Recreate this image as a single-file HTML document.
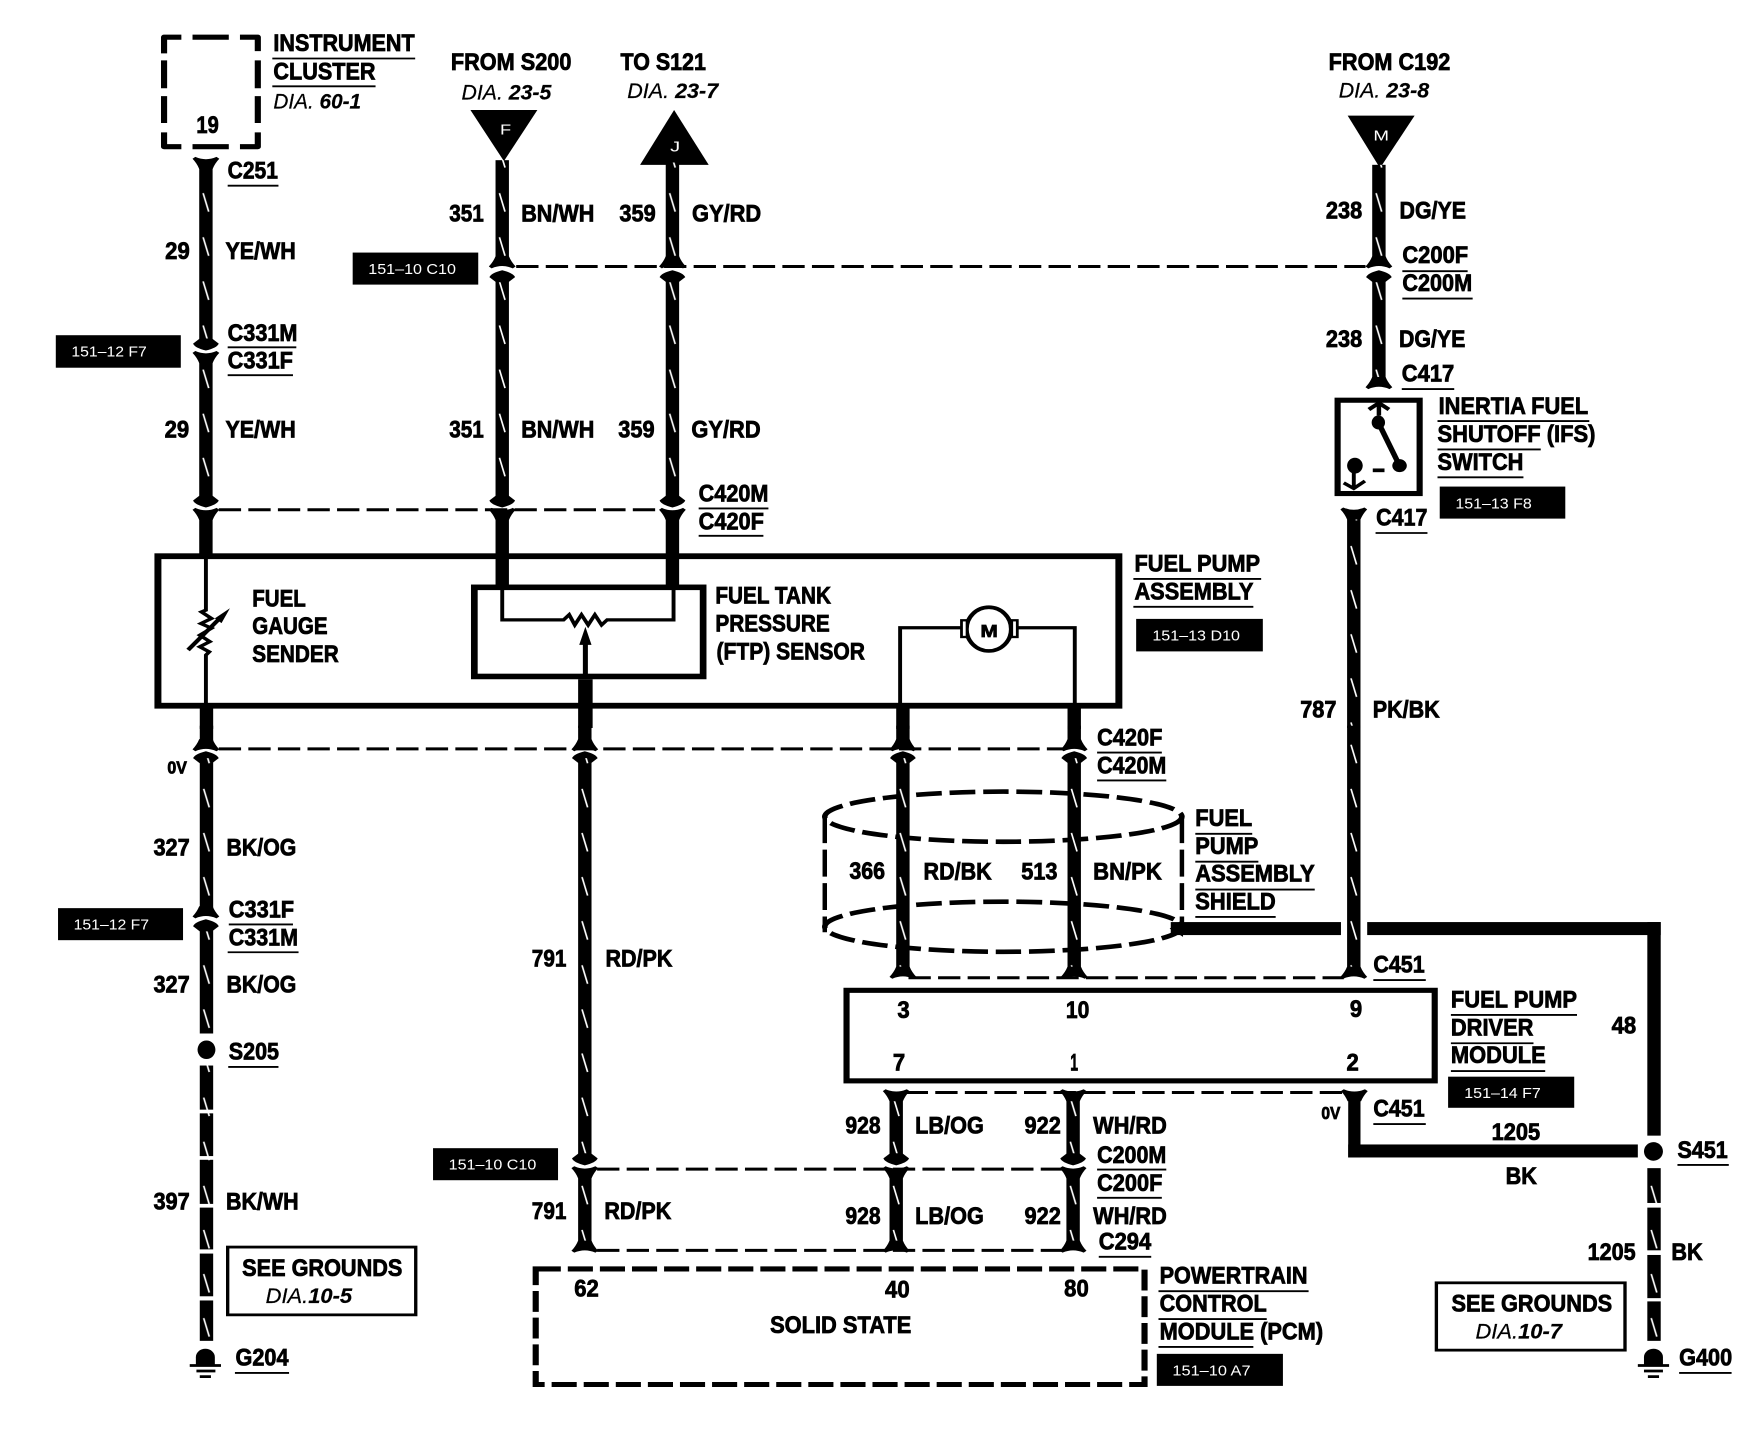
<!DOCTYPE html>
<html><head><meta charset="utf-8"><style>
html,body{margin:0;padding:0;background:#fff}
svg{display:block}
text{font-family:"Liberation Sans",sans-serif;font-weight:bold;font-size:52px;fill:#000;stroke:#000;stroke-width:1.7px}
text.s{font-size:38px}
text.i{font-style:italic;font-weight:normal;stroke-width:.5px;font-size:46px}
text.i tspan{font-weight:bold}
text.w{font-weight:normal;font-size:32px;fill:#fff;stroke:none}
.u{fill:none;stroke:#000;stroke-width:4}
.d{fill:none;stroke:#000;stroke-width:6.5;stroke-dasharray:40 13}
.t2{fill:none;stroke:#000;stroke-width:7}
</style></head><body>
<svg xmlns="http://www.w3.org/2000/svg" width="1750" height="1456" viewBox="0 0 3136 3136" preserveAspectRatio="none">
<defs>
<pattern id="w" patternUnits="userSpaceOnUse" x="0" y="0" width="24" height="95"><rect width="24" height="95" fill="#000"/><line x1="7" y1="36" x2="17" y2="76" stroke="#fff" stroke-width="3"/></pattern>
<path id="fu" d="M-24,-8 L-19,-12 Q0,-2 19,-12 L24,-8 Q16,2 12,14 L-12,14 Q-16,2 -24,-8Z"/>
<path id="ad" d="M-11,-26 L-23,-15 Q-20,-6 0,0 Q20,-6 23,-15 L11,-26Z"/>
</defs>
<rect width="3136" height="3136" fill="#fff"/>

<!-- dashed connector lines -->
<path class="d" d="M925 574H2447"/>
<path class="d" d="M392 1098H1185"/>
<path class="d" d="M392 1613H1908"/>
<path class="d" d="M1070 2518H1908"/>
<path class="d" d="M1070 2693H1908"/>
<path class="d" d="M1628 2106H2408"/>
<path class="d" d="M1623 2353H2408"/>

<!-- QUADRANT 1 -->
<g>
<!-- instrument cluster -->
<path d="M325 80H294V115M294 130V190M294 207V265M294 285V316H325M345 316H410M430 316H462V285M462 265V207M462 190V130M462 110V80H430M410 80H345" stroke="#000" stroke-width="11" fill="none" stroke-linejoin="round"/>
<polygon points="843,237 963,237 903,347"/>
<polygon points="1208,237 1270,355 1147,355"/>
<text class="w" x="896" y="290" textLength="20" lengthAdjust="spacingAndGlyphs">F</text>
<text class="w" x="1201" y="326" textLength="18" lengthAdjust="spacingAndGlyphs">J</text>

<g fill="url(#w)" transform="translate(357,0)">
<rect width="24" y="350" height="395"/><rect width="24" y="768" height="315"/>
</g>
<rect x="357" y="1106" width="24" height="92"/>
<use href="#fu" transform="translate(369,350)"/><use href="#ad" transform="translate(369,755)"/><use href="#fu" transform="translate(369,768)"/><use href="#ad" transform="translate(369,1093)"/><use href="#fu" transform="translate(369,1106)"/>

<g fill="url(#w)" transform="translate(888,0)">
<rect width="24" y="345" height="215"/><rect width="24" y="595" height="490"/>
</g>
<rect x="888" y="1106" width="24" height="160"/>
<use href="#fu" transform="translate(900,566) scale(1,-1)"/><use href="#ad" transform="translate(900,582) scale(1,-1)"/><use href="#ad" transform="translate(900,1093)"/><use href="#fu" transform="translate(900,1106)"/>

<g fill="url(#w)" transform="translate(1193,0)">
<rect width="24" y="350" height="210"/><rect width="24" y="595" height="490"/>
</g>
<rect x="1193" y="1106" width="24" height="160"/>
<use href="#fu" transform="translate(1205,566) scale(1,-1)"/><use href="#ad" transform="translate(1205,582) scale(1,-1)"/><use href="#ad" transform="translate(1205,1093)"/><use href="#fu" transform="translate(1205,1106)"/>

<!-- pump box -->
<rect x="283" y="1198" width="1722" height="322" fill="none" stroke="#000" stroke-width="12.5"/>
<rect x="850" y="1265" width="410" height="192" fill="none" stroke="#000" stroke-width="12"/>
<path class="t2" d="M900 1265V1335H1010L1020 1324L1030 1346L1042 1324L1054 1346L1066 1324L1078 1346L1088 1335H1207V1265"/>
<path d="M1049 1460V1380" stroke="#000" stroke-width="9"/>
<polygon points="1049,1350 1038,1389 1060,1389"/>
<rect x="1036" y="1463" width="26" height="105"/>
<path class="t2" d="M369 1198V1314L361 1318L379 1332L360 1343L379 1353L358 1368L376 1382L358 1393L375 1404L369 1411V1520"/>
<path d="M337 1400L392 1334" stroke="#000" stroke-width="8"/>
<polygon points="412,1310 385,1332 397,1342"/>
<rect x="358" y="1520" width="24" height="50"/>

<text x="490" y="110" textLength="253" lengthAdjust="spacingAndGlyphs">INSTRUMENT</text>
<text x="490" y="171" textLength="183" lengthAdjust="spacingAndGlyphs">CLUSTER</text>
<text class="i" x="490" y="234" textLength="157" lengthAdjust="spacingAndGlyphs">DIA. <tspan>60-1</tspan></text>
<text x="808" y="151" textLength="216" lengthAdjust="spacingAndGlyphs">FROM S200</text>
<text class="i" x="827" y="214" textLength="161" lengthAdjust="spacingAndGlyphs">DIA. <tspan>23-5</tspan></text>
<text x="1112" y="151" textLength="153" lengthAdjust="spacingAndGlyphs">TO S121</text>
<text class="i" x="1124" y="211" textLength="163" lengthAdjust="spacingAndGlyphs">DIA. <tspan>23-7</tspan></text>
<text x="352" y="287" textLength="40" lengthAdjust="spacingAndGlyphs">19</text>
<text x="408" y="385" textLength="90" lengthAdjust="spacingAndGlyphs">C251</text>
<text x="805" y="477" textLength="62" lengthAdjust="spacingAndGlyphs">351</text>
<text x="934" y="477" textLength="131" lengthAdjust="spacingAndGlyphs">BN/WH</text>
<text x="1110" y="477" textLength="65" lengthAdjust="spacingAndGlyphs">359</text>
<text x="1240" y="477" textLength="124" lengthAdjust="spacingAndGlyphs">GY/RD</text>
<text x="296" y="558" textLength="44" lengthAdjust="spacingAndGlyphs">29</text>
<text x="404" y="558" textLength="126" lengthAdjust="spacingAndGlyphs">YE/WH</text>
<text x="408" y="734" textLength="125" lengthAdjust="spacingAndGlyphs">C331M</text>
<text x="408" y="794" textLength="117" lengthAdjust="spacingAndGlyphs">C331F</text>
<text x="295" y="942" textLength="44" lengthAdjust="spacingAndGlyphs">29</text>
<text x="404" y="942" textLength="126" lengthAdjust="spacingAndGlyphs">YE/WH</text>
<text x="805" y="942" textLength="62" lengthAdjust="spacingAndGlyphs">351</text>
<text x="934" y="942" textLength="131" lengthAdjust="spacingAndGlyphs">BN/WH</text>
<text x="1108" y="942" textLength="65" lengthAdjust="spacingAndGlyphs">359</text>
<text x="1239" y="942" textLength="124" lengthAdjust="spacingAndGlyphs">GY/RD</text>
<text x="1252" y="1080" textLength="125" lengthAdjust="spacingAndGlyphs">C420M</text>
<text x="1252" y="1140" textLength="117" lengthAdjust="spacingAndGlyphs">C420F</text>
<text x="452" y="1306" textLength="96" lengthAdjust="spacingAndGlyphs">FUEL</text>
<text x="452" y="1366" textLength="135" lengthAdjust="spacingAndGlyphs">GAUGE</text>
<text x="452" y="1426" textLength="155" lengthAdjust="spacingAndGlyphs">SENDER</text>
<text x="1282" y="1300" textLength="207" lengthAdjust="spacingAndGlyphs">FUEL TANK</text>
<text x="1282" y="1360" textLength="205" lengthAdjust="spacingAndGlyphs">PRESSURE</text>
<text x="1284" y="1420" textLength="266" lengthAdjust="spacingAndGlyphs">(FTP) SENSOR</text>
<path class="u" d="M488 126H744M488 186H673M408 400H499M408 748H531M408 808H525M1252 1095H1377M1252 1154H1368"/>
<rect x="100" y="722" width="224" height="70"/>
<text class="w" x="128" y="768" textLength="135" lengthAdjust="spacingAndGlyphs">151–12 F7</text>
<rect x="632" y="544" width="225" height="69"/>
<text class="w" x="660" y="590" textLength="157" lengthAdjust="spacingAndGlyphs">151–10 C10</text>
</g>

<!-- QUADRANT 2 -->
<g transform="translate(1568,0)">
<polygon points="847,249 967,249 905,362"/>
<text class="w" x="893" y="303" textLength="28" lengthAdjust="spacingAndGlyphs">M</text>
<g fill="url(#w)" transform="translate(891,0)">
<rect width="24" y="355" height="205"/><rect width="24" y="595" height="230"/>
</g>
<use href="#fu" transform="translate(903,566) scale(1,-1)"/><use href="#ad" transform="translate(903,582) scale(1,-1)"/><use href="#fu" transform="translate(903,826) scale(1,-1)"/>
<rect x="829" y="862" width="147" height="201" fill="none" stroke="#000" stroke-width="11"/>
<path d="M903 868V895M885 882L903 868L921 882" stroke="#000" stroke-width="8" fill="none"/>
<ellipse cx="902" cy="910" rx="12" ry="15"/><path d="M902 910L940 1003" stroke="#000" stroke-width="10"/><ellipse cx="940" cy="1003" rx="13" ry="14"/>
<path d="M892 1013H913" stroke="#000" stroke-width="8"/>
<ellipse cx="860" cy="1003" rx="14" ry="17"/><path d="M858 1003V1050M840 1040L858 1052L878 1036" stroke="#000" stroke-width="7" fill="none"/>
<g fill="url(#w)" transform="translate(846,0)">
<rect width="24" y="1105" height="463"/>
</g>
<use href="#fu" transform="translate(858,1105)"/>
<path class="t2" d="M45 1520V1352H155M255 1352H358V1520"/>
<ellipse cx="204" cy="1355" rx="40" ry="47" fill="#fff" stroke="#000" stroke-width="8"/>
<rect x="155" y="1336" width="10" height="36" fill="#fff" stroke="#000" stroke-width="5"/>
<rect x="245" y="1336" width="10" height="36" fill="#fff" stroke="#000" stroke-width="5"/>
<text class="s" x="189" y="1372" textLength="31" lengthAdjust="spacingAndGlyphs">M</text>
<rect x="38" y="1520" width="24" height="50"/><rect x="345" y="1520" width="24" height="50"/>

<text x="813" y="151" textLength="218" lengthAdjust="spacingAndGlyphs">FROM C192</text>
<text class="i" x="831" y="210" textLength="162" lengthAdjust="spacingAndGlyphs">DIA. <tspan>23-8</tspan></text>
<text x="808" y="471" textLength="65" lengthAdjust="spacingAndGlyphs">238</text>
<text x="940" y="471" textLength="119" lengthAdjust="spacingAndGlyphs">DG/YE</text>
<text x="945" y="567" textLength="118" lengthAdjust="spacingAndGlyphs">C200F</text>
<text x="945" y="627" textLength="125" lengthAdjust="spacingAndGlyphs">C200M</text>
<text x="808" y="747" textLength="65" lengthAdjust="spacingAndGlyphs">238</text>
<text x="939" y="747" textLength="119" lengthAdjust="spacingAndGlyphs">DG/YE</text>
<text x="944" y="822" textLength="94" lengthAdjust="spacingAndGlyphs">C417</text>
<text x="1010" y="892" textLength="268" lengthAdjust="spacingAndGlyphs">INERTIA FUEL</text>
<text x="1008" y="952" textLength="283" lengthAdjust="spacingAndGlyphs">SHUTOFF (IFS)</text>
<text x="1008" y="1012" textLength="154" lengthAdjust="spacingAndGlyphs">SWITCH</text>
<text x="898" y="1132" textLength="92" lengthAdjust="spacingAndGlyphs">C417</text>
<text x="465" y="1231" textLength="225" lengthAdjust="spacingAndGlyphs">FUEL PUMP</text>
<text x="465" y="1291" textLength="213" lengthAdjust="spacingAndGlyphs">ASSEMBLY</text>
<text x="762" y="1545" textLength="65" lengthAdjust="spacingAndGlyphs">787</text>
<text x="892" y="1545" textLength="120" lengthAdjust="spacingAndGlyphs">PK/BK</text>
<path class="u" d="M945 584H1062M945 643H1071M944 838H1038M1008 907H1280M1008 968H1193M1008 1028H1162M897 1148H990M463 1247H692M463 1307H678"/>
<rect x="1012" y="1048" width="225" height="69"/>
<text class="w" x="1040" y="1095" textLength="137" lengthAdjust="spacingAndGlyphs">151–13 F8</text>
<rect x="468" y="1333" width="227" height="70"/>
<text class="w" x="497" y="1380" textLength="157" lengthAdjust="spacingAndGlyphs">151–13 D10</text>
</g>

<!-- QUADRANT 3 -->
<g transform="translate(0,1568)">
<rect x="358" y="-5" width="24" height="40"/>
<use href="#fu" transform="translate(369,38) scale(1,-1)"/><use href="#ad" transform="translate(369,50) scale(1,-1)"/>
<g fill="url(#w)" transform="translate(358,0)">
<rect width="24" y="65" height="330"/><rect width="24" y="430" height="228"/>
<rect width="24" y="727" height="95"/><rect width="24" y="830" height="92"/><rect width="24" y="930" height="95"/><rect width="24" y="1033" height="90"/><rect width="24" y="1132" height="92"/><rect width="24" y="1233" height="87"/>
</g>
<use href="#fu" transform="translate(369,398) scale(1,-1)"/><use href="#ad" transform="translate(369,412) scale(1,-1)"/>
<ellipse cx="370" cy="693" rx="16" ry="20"/>
<path d="M351 1372V1355A17 18 0 0 1 385 1355V1372Z"/>
<path d="M340 1373H396M352 1385H386M358 1397H378" stroke="#000" stroke-width="6"/>

<rect x="1036" y="-5" width="24" height="40"/>
<use href="#fu" transform="translate(1048,38) scale(1,-1)"/><use href="#ad" transform="translate(1048,50) scale(1,-1)"/>
<g fill="url(#w)" transform="translate(1036,0)">
<rect width="24" y="65" height="865"/><rect width="24" y="956" height="160"/>
</g>
<use href="#ad" transform="translate(1048,942)"/><use href="#fu" transform="translate(1048,956)"/><use href="#fu" transform="translate(1048,1118) scale(1,-1)"/>

<text class="s" x="300" y="98" textLength="35" lengthAdjust="spacingAndGlyphs">0V</text>
<text x="275" y="275" textLength="65" lengthAdjust="spacingAndGlyphs">327</text>
<text x="406" y="275" textLength="125" lengthAdjust="spacingAndGlyphs">BK/OG</text>
<text x="410" y="408" textLength="117" lengthAdjust="spacingAndGlyphs">C331F</text>
<text x="410" y="468" textLength="124" lengthAdjust="spacingAndGlyphs">C331M</text>
<text x="275" y="570" textLength="65" lengthAdjust="spacingAndGlyphs">327</text>
<text x="406" y="570" textLength="125" lengthAdjust="spacingAndGlyphs">BK/OG</text>
<text x="410" y="714" textLength="90" lengthAdjust="spacingAndGlyphs">S205</text>
<text x="275" y="1037" textLength="65" lengthAdjust="spacingAndGlyphs">397</text>
<text x="405" y="1037" textLength="130" lengthAdjust="spacingAndGlyphs">BK/WH</text>
<rect x="408" y="1118" width="337" height="146" fill="none" stroke="#000" stroke-width="6"/>
<text x="434" y="1180" textLength="287" lengthAdjust="spacingAndGlyphs">SEE GROUNDS</text>
<text class="i" x="476" y="1238" textLength="155" lengthAdjust="spacingAndGlyphs">DIA.<tspan>10-5</tspan></text>
<text x="422" y="1373" textLength="95" lengthAdjust="spacingAndGlyphs">G204</text>
<text x="953" y="514" textLength="62" lengthAdjust="spacingAndGlyphs">791</text>
<text x="1085" y="514" textLength="120" lengthAdjust="spacingAndGlyphs">RD/PK</text>
<text x="953" y="1058" textLength="62" lengthAdjust="spacingAndGlyphs">791</text>
<text x="1083" y="1058" textLength="120" lengthAdjust="spacingAndGlyphs">RD/PK</text>
<text x="1029" y="1225" textLength="44" lengthAdjust="spacingAndGlyphs">62</text>
<text x="1380" y="1303" textLength="253" lengthAdjust="spacingAndGlyphs">SOLID STATE</text>
<text x="1515" y="873" textLength="63" lengthAdjust="spacingAndGlyphs">928</text>
<text x="1515" y="1068" textLength="63" lengthAdjust="spacingAndGlyphs">928</text>
<text x="1522" y="325" textLength="64" lengthAdjust="spacingAndGlyphs">366</text>
<path class="u" d="M410 423H525M408 483H535M409 730H499M421 1389H518"/>
<rect x="104" y="388" width="224" height="69"/>
<text class="w" x="132" y="434" textLength="135" lengthAdjust="spacingAndGlyphs">151–12 F7</text>
<rect x="776" y="905" width="224" height="69"/>
<text class="w" x="804" y="951" textLength="157" lengthAdjust="spacingAndGlyphs">151–10 C10</text>
<!-- PCM dashed box -->
<rect x="960" y="1165" width="1091" height="249" fill="none" stroke="#000" stroke-width="11" stroke-dasharray="45 12.5"/>
<!-- shield -->
<ellipse cx="1798" cy="191" rx="320" ry="54" fill="none" stroke="#000" stroke-width="10" stroke-dasharray="46 14"/>
<ellipse cx="1798" cy="428" rx="320" ry="54" fill="none" stroke="#000" stroke-width="10" stroke-dasharray="46 14"/>
<path d="M1478 190V440" fill="none" stroke="#000" stroke-width="8" stroke-dasharray="58 14"/>
<path d="M2118 190V420" fill="none" stroke="#000" stroke-width="8" stroke-dasharray="58 14"/>
<!-- module box -->
<rect x="1517" y="565" width="1054" height="195" fill="none" stroke="#000" stroke-width="11"/>
</g>

<!-- QUADRANT 4 -->
<g transform="translate(1568,1568)">
<rect x="38" y="-5" width="24" height="40"/><rect x="345" y="-5" width="24" height="40"/>
<use href="#fu" transform="translate(50,38) scale(1,-1)"/><use href="#ad" transform="translate(50,50) scale(1,-1)"/>
<use href="#fu" transform="translate(357,38) scale(1,-1)"/><use href="#ad" transform="translate(357,50) scale(1,-1)"/>
<g fill="url(#w)" transform="translate(38,0)"><rect width="24" y="65" height="460"/></g>
<g fill="url(#w)" transform="translate(345,0)"><rect width="24" y="65" height="460"/></g>
<use href="#fu" transform="translate(50,528) scale(1,-1)"/><use href="#fu" transform="translate(357,528) scale(1,-1)"/>
<g fill="url(#w)" transform="translate(846,0)"><rect width="24" y="-5" height="530"/></g>
<use href="#fu" transform="translate(858,528) scale(1,-1)"/>
<!-- shield ground -->
<rect x="530" y="418" width="305" height="28"/>
<path d="M528 432L552 412V450Z"/>
<rect x="882" y="418" width="526" height="28"/>
<rect x="1384" y="418" width="24" height="460"/>
<ellipse cx="1395" cy="912" rx="17" ry="20"/>
<g fill="url(#w)" transform="translate(1384,0)">
<rect width="24" y="948" height="75"/><rect width="24" y="1033" height="92"/><rect width="24" y="1135" height="93"/><rect width="24" y="1235" height="85"/>
</g>
<path d="M1378 1372V1355A17 18 0 0 1 1412 1355V1372Z"/>
<path d="M1367 1373H1423M1378 1385H1412M1385 1397H1405" stroke="#000" stroke-width="6"/>
<!-- lower wires -->
<rect x="848" y="790" width="22" height="135"/><rect x="848" y="897" width="519" height="28"/>
<use href="#fu" transform="translate(859,790)"/>
<g fill="url(#w)" transform="translate(26,0)"><rect width="24" y="790" height="130"/><rect width="24" y="956" height="160"/></g>
<g fill="url(#w)" transform="translate(343,0)"><rect width="24" y="790" height="130"/><rect width="24" y="956" height="160"/></g>
<use href="#fu" transform="translate(38,790)"/><use href="#ad" transform="translate(38,942)"/><use href="#fu" transform="translate(38,956)"/><use href="#fu" transform="translate(38,1118) scale(1,-1)"/>
<use href="#fu" transform="translate(355,790)"/><use href="#ad" transform="translate(355,942)"/><use href="#fu" transform="translate(355,956)"/><use href="#fu" transform="translate(355,1118) scale(1,-1)"/>

<text x="398" y="38" textLength="117" lengthAdjust="spacingAndGlyphs">C420F</text>
<text x="398" y="98" textLength="124" lengthAdjust="spacingAndGlyphs">C420M</text>
<text x="574" y="211" textLength="102" lengthAdjust="spacingAndGlyphs">FUEL</text>
<text x="574" y="271" textLength="113" lengthAdjust="spacingAndGlyphs">PUMP</text>
<text x="574" y="331" textLength="214" lengthAdjust="spacingAndGlyphs">ASSEMBLY</text>
<text x="574" y="391" textLength="144" lengthAdjust="spacingAndGlyphs">SHIELD</text>
<text x="87" y="326" textLength="122" lengthAdjust="spacingAndGlyphs">RD/BK</text>
<text x="262" y="326" textLength="65" lengthAdjust="spacingAndGlyphs">513</text>
<text x="391" y="326" textLength="123" lengthAdjust="spacingAndGlyphs">BN/PK</text>
<text x="893" y="527" textLength="92" lengthAdjust="spacingAndGlyphs">C451</text>
<text x="40" y="625" textLength="22" lengthAdjust="spacingAndGlyphs">3</text>
<text x="342" y="625" textLength="42" lengthAdjust="spacingAndGlyphs">10</text>
<text x="851" y="623" textLength="22" lengthAdjust="spacingAndGlyphs">9</text>
<text x="32" y="738" textLength="22" lengthAdjust="spacingAndGlyphs">7</text>
<text x="350" y="738" textLength="14" lengthAdjust="spacingAndGlyphs">1</text>
<text x="845" y="738" textLength="22" lengthAdjust="spacingAndGlyphs">2</text>
<text x="1032" y="602" textLength="226" lengthAdjust="spacingAndGlyphs">FUEL PUMP</text>
<text x="1032" y="662" textLength="148" lengthAdjust="spacingAndGlyphs">DRIVER</text>
<text x="1032" y="722" textLength="170" lengthAdjust="spacingAndGlyphs">MODULE</text>
<text x="1320" y="658" textLength="44" lengthAdjust="spacingAndGlyphs">48</text>
<text x="72" y="873" textLength="123" lengthAdjust="spacingAndGlyphs">LB/OG</text>
<text x="268" y="873" textLength="65" lengthAdjust="spacingAndGlyphs">922</text>
<text x="391" y="873" textLength="132" lengthAdjust="spacingAndGlyphs">WH/RD</text>
<text class="s" x="800" y="842" textLength="34" lengthAdjust="spacingAndGlyphs">0V</text>
<text x="893" y="837" textLength="92" lengthAdjust="spacingAndGlyphs">C451</text>
<text x="1105" y="887" textLength="87" lengthAdjust="spacingAndGlyphs">1205</text>
<text x="1130" y="982" textLength="56" lengthAdjust="spacingAndGlyphs">BK</text>
<text x="398" y="937" textLength="124" lengthAdjust="spacingAndGlyphs">C200M</text>
<text x="398" y="997" textLength="117" lengthAdjust="spacingAndGlyphs">C200F</text>
<text x="72" y="1068" textLength="123" lengthAdjust="spacingAndGlyphs">LB/OG</text>
<text x="268" y="1068" textLength="65" lengthAdjust="spacingAndGlyphs">922</text>
<text x="391" y="1068" textLength="132" lengthAdjust="spacingAndGlyphs">WH/RD</text>
<text x="401" y="1123" textLength="94" lengthAdjust="spacingAndGlyphs">C294</text>
<text x="1438" y="926" textLength="90" lengthAdjust="spacingAndGlyphs">S451</text>
<text x="1277" y="1146" textLength="86" lengthAdjust="spacingAndGlyphs">1205</text>
<text x="1427" y="1146" textLength="56" lengthAdjust="spacingAndGlyphs">BK</text>
<rect x="1006" y="1195" width="338" height="145" fill="none" stroke="#000" stroke-width="6"/>
<text x="1033" y="1257" textLength="288" lengthAdjust="spacingAndGlyphs">SEE GROUNDS</text>
<text class="i" x="1076" y="1315" textLength="155" lengthAdjust="spacingAndGlyphs">DIA.<tspan>10-7</tspan></text>
<text x="1441" y="1373" textLength="95" lengthAdjust="spacingAndGlyphs">G400</text>
<text x="510" y="1197" textLength="265" lengthAdjust="spacingAndGlyphs">POWERTRAIN</text>
<text x="510" y="1257" textLength="192" lengthAdjust="spacingAndGlyphs">CONTROL</text>
<text x="510" y="1317" textLength="293" lengthAdjust="spacingAndGlyphs">MODULE (PCM)</text>
<text x="18" y="1227" textLength="44" lengthAdjust="spacingAndGlyphs">40</text>
<text x="339" y="1225" textLength="44" lengthAdjust="spacingAndGlyphs">80</text>
<path class="u" d="M398 53H514M398 113H522M574 228H676M574 288H687M574 348H788M574 407H718M893 543H987M1032 618H1258M1032 679H1180M1032 739H1201M893 853H987M398 951H522M398 1012H514M401 1139H495M1438 941H1530M1441 1389H1535M508 1213H777M508 1273H702M508 1333H678"/>
<rect x="1027" y="751" width="226" height="67"/>
<text class="w" x="1056" y="797" textLength="137" lengthAdjust="spacingAndGlyphs">151–14 F7</text>
<rect x="505" y="1348" width="226" height="69"/>
<text class="w" x="533" y="1395" textLength="140" lengthAdjust="spacingAndGlyphs">151–10 A7</text>
</g>
</svg>
</body></html>
